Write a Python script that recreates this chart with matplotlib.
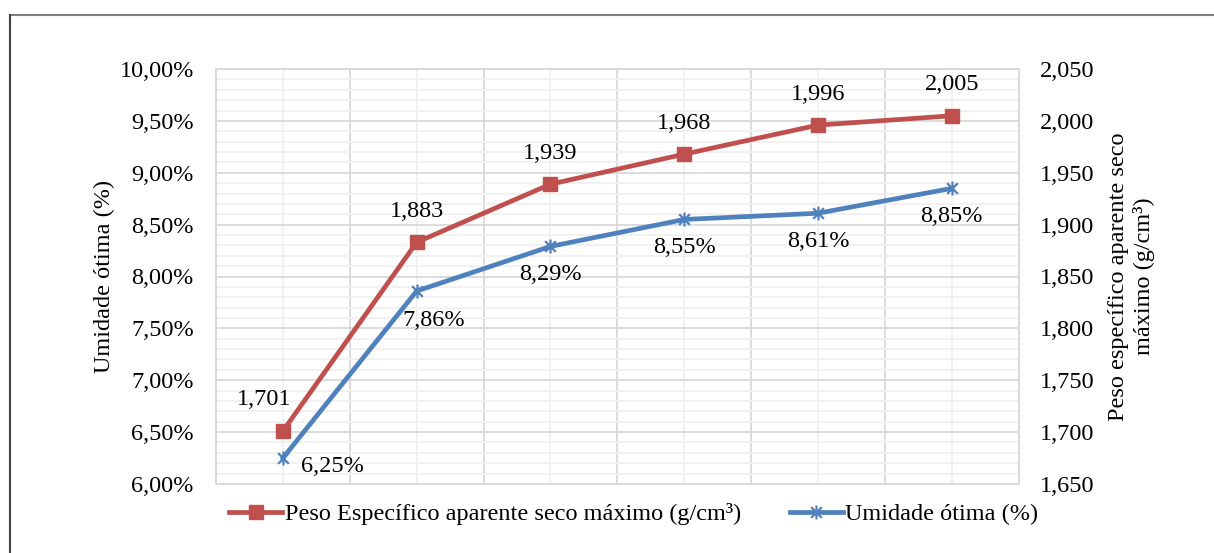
import matplotlib.pyplot as plt
import numpy as np
from matplotlib.lines import Line2D
from matplotlib.path import Path
from matplotlib.ticker import FixedLocator, FuncFormatter

plt.rcParams['font.family'] = ['Liberation Serif', 'DejaVu Serif']

categorias = [1, 2, 3, 4, 5, 6]
peso = [1.701, 1.883, 1.939, 1.968, 1.996, 2.005]
umidade = [6.25, 7.86, 8.29, 8.55, 8.61, 8.85]
peso_labels = ["1,701", "1,883", "1,939", "1,968", "1,996", "2,005"]
umid_labels = ["6,25%", "7,86%", "8,29%", "8,55%", "8,61%", "8,85%"]

RED = "#C0504D"
BLUE = "#4F81BD"
FS = 17.5

# marcador estrela do Excel (x + linha vertical)
star = Path([(-1, -1), (1, 1), (-1, 1), (1, -1), (0, -1.3), (0, 1.3)],
            [Path.MOVETO, Path.LINETO, Path.MOVETO, Path.LINETO, Path.MOVETO, Path.LINETO])

fig = plt.figure(figsize=(12.14, 5.53), dpi=100)
ax = fig.add_axes([0.178, 0.125, 0.661, 0.750])
ax2 = ax.twinx()

x = np.arange(len(categorias))

ax.set_xlim(-0.5, len(categorias) - 0.5)
ax.set_ylim(6.0, 10.0)
ax2.set_ylim(1.650, 2.050)

# grade
ax.xaxis.set_major_locator(FixedLocator(np.arange(-0.5, len(categorias), 1.0)))
ax.xaxis.set_minor_locator(FixedLocator(x))
ax.yaxis.set_major_locator(FixedLocator(np.arange(6.0, 10.01, 0.5)))
ax.yaxis.set_minor_locator(FixedLocator(np.arange(6.0, 10.01, 0.1)))
ax.grid(which='major', color='#D9D9D9', linewidth=1.3)
ax.grid(which='minor', color='#F0F0F0', linewidth=1.3)
ax.set_axisbelow(True)
ax.tick_params(which='both', length=0)
ax.tick_params(axis='x', labelbottom=False)
ax.tick_params(axis='y', labelsize=FS, pad=16)
ax.yaxis.set_major_formatter(FuncFormatter(lambda v, p: f"{v:.2f}%".replace('.', ',')))

ax2.yaxis.set_major_locator(FixedLocator(np.arange(1.650, 2.0501, 0.05)))
ax2.yaxis.set_major_formatter(FuncFormatter(lambda v, p: f"{v:.3f}".replace('.', ',')))
ax2.tick_params(length=0, labelsize=FS, pad=15)

for a in (ax, ax2):
    for s in a.spines.values():
        s.set_color('#D9D9D9')
        s.set_linewidth(1.3)

l1, = ax2.plot(x, peso, color=RED, linewidth=3.4, marker='s', markersize=10,
               label="Peso Específico aparente seco máximo (g/cm³)")
l2, = ax.plot(x, umidade, color=BLUE, linewidth=3.4, marker=star, markersize=10,
              markeredgewidth=1.6, label="Umidade ótima (%)")

for i, (v, t) in enumerate(zip(peso, peso_labels)):
    dx = -19 if i == 0 else 0
    ax2.annotate(t, (x[i], v), xytext=(dx, 31), textcoords='offset pixels',
                 ha='center', va='center', fontsize=FS)

for i, (v, t) in enumerate(zip(umidade, umid_labels)):
    if i == 0:
        off = (49, -9)
    elif i == 1:
        off = (17, -29)
    else:
        off = (0, -28)
    ax.annotate(t, (x[i], v), xytext=off, textcoords='offset pixels',
                ha='center', va='center', fontsize=FS)

ax.set_ylabel("Umidade ótima (%)", fontsize=FS, labelpad=3)
ax2.set_ylabel("Peso específico aparente seco\nmáximo (g/cm³)", fontsize=FS,
               labelpad=10, linespacing=1.25)

fig.legend(handles=[l1, l2], loc='center', bbox_to_anchor=(0.522, 0.07), ncol=2,
           frameon=False, fontsize=FS, handlelength=2.2, handletextpad=0.1,
           columnspacing=2.0)

# moldura externa do gráfico
fig.add_artist(Line2D([10 / 1214, 1], [1 - 15 / 553, 1 - 15 / 553], color='#7F7F7F', linewidth=1.5))
fig.add_artist(Line2D([10 / 1214, 10 / 1214], [0, 1 - 15 / 553], color='#404040', linewidth=1.5))

fig.savefig("out.png", dpi=100)
